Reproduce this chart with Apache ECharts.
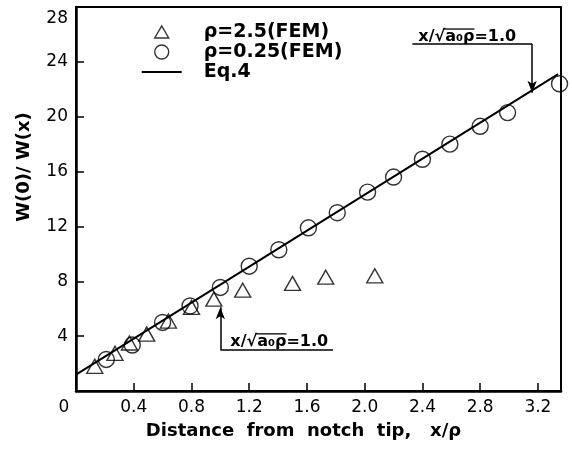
<!DOCTYPE html>
<html><head><meta charset="utf-8">
<script src="https://cdn.jsdelivr.net/npm/echarts@6.0.0/dist/echarts.min.js"></script>
<style>html,body{margin:0;padding:0;background:#fff}#c{width:572px;height:457px}</style>
</head><body><div id="c"></div>
<script>
// ---- data ----
const xTickLabels = ['0', '0.4', '0.8', '1.2', '1.6', '2.0', '2.4', '2.8', '3.2'];
const yTickLabels = ['', '4', '8', '12', '16', '20', '24', '28'];

const rho25X = [0.13, 0.27, 0.37, 0.49, 0.64, 0.80, 0.955, 1.155, 1.50, 1.73, 2.07];
const rho25Y = [1.8, 2.75, 3.5, 4.15, 5.1, 6.1, 6.7, 7.35, 7.85, 8.3, 8.4];

const rho025X = [0.21, 0.39, 0.60, 0.79, 1.0, 1.2, 1.405, 1.61, 1.81, 2.02, 2.2, 2.4, 2.59, 2.8, 2.99, 3.35];
const rho025Y = [2.3, 3.35, 5.0, 6.2, 7.55, 9.1, 10.3, 11.9, 13.0, 14.5, 15.6, 16.9, 18.0, 19.3, 20.3, 22.4];

const eqX = [0, 3.34];
const eqY = [1.2, 23.1];

// annotation "x/sqrt(a0 rho)=1.0" leader lines: [underline start x, corner x, underline y, arrow tip y]
const annTop = [2.33, 3.16, 25.3, 21.75];
const annBottom = [1.78, 1.0, 3.0, 6.1];
const annText = ['x/√', 'a₀ρ', '=1.0'];

const seriesNames = ['ρ=2.5(FEM)', 'ρ=0.25(FEM)', 'Eq.4'];

const zip = (a, b) => a.map((v, i) => [v, b[i]]);

const chart = echarts.init(document.getElementById('c'), null, {renderer: 'canvas'});
const FONT = '"DejaVu Sans", sans-serif';

const hollow = {color: 'rgba(0,0,0,0)', borderColor: '#000', borderWidth: 1.4};

// legend icons drawn inside a 40x14 box (moveTo points fix the bounding box)
const triIcon = 'path://M0,7 M13,13 L20,1 L27,13 Z M40,7 M0,0 M40,14';
const lineIcon = 'path://M0,0 M0,6 L40,6 L40,8 L0,8 Z M40,14';

const option = {
  animation: false,
  backgroundColor: '#fff',
  grid: {left: 76, right: 11, top: 7, bottom: 66, show: true, borderColor: '#000', borderWidth: 2, outerBoundsMode: 'none', containLabel: false},
  legend: {
    orient: 'vertical', left: 136, top: 17,
    itemWidth: 40, itemHeight: 14, itemGap: 0,
    selectedMode: false,
    textStyle: {fontFamily: FONT, fontWeight: 'bold', fontSize: 19, color: '#000', lineHeight: 20, padding: [0, 0, 0, 17]},
    data: [
      {name: seriesNames[0], icon: triIcon, itemStyle: hollow},
      {name: seriesNames[1], icon: 'circle', itemStyle: hollow},
      {name: seriesNames[2], icon: lineIcon, itemStyle: {color: '#000', borderWidth: 0}}
    ]
  },
  xAxis: {
    type: 'value', min: 0, max: 3.36, interval: 0.4,
    name: 'Distance  from  notch  tip,   x/ρ', nameLocation: 'middle', nameGap: 31,
    nameTextStyle: {fontFamily: FONT, fontWeight: 'bold', fontSize: 18, color: '#000', padding: [0, 30, 0, 0]},
    axisLine: {show: true, onZero: false, lineStyle: {color: '#000', width: 2.5}},
    axisTick: {show: true, inside: true, length: 8, lineStyle: {color: '#000', width: 1.5}},
    splitLine: {show: false},
    axisLabel: {
      showMaxLabel: false, margin: 8, color: '#000', fontFamily: FONT, fontSize: 17,
      formatter: (v, i) => i === 0 ? '{z|' + xTickLabels[0] + '}' : (xTickLabels[i] || ''),
      rich: {z: {fontFamily: FONT, fontSize: 17, color: '#000', padding: [0, 24, 0, 0]}}
    }
  },
  yAxis: {
    type: 'value', min: 0, max: 28, interval: 4,
    name: 'W(0)/ W(x)', nameLocation: 'middle', nameGap: 43,
    nameTextStyle: {fontFamily: FONT, fontWeight: 'bold', fontSize: 18, color: '#000', padding: [0, 0, 0, 64]},
    axisLine: {show: true, onZero: false, lineStyle: {color: '#000', width: 2.5}},
    axisTick: {show: true, inside: true, length: 8, lineStyle: {color: '#000', width: 1.5}},
    splitLine: {show: false},
    axisLabel: {margin: 8, color: '#000', fontFamily: FONT, fontSize: 17,
      formatter: (v, i) => i === yTickLabels.length - 1 ? '{t|' + yTickLabels[i] + '}' : (yTickLabels[i] || ''),
      rich: {t: {fontFamily: FONT, fontSize: 17, color: '#000', padding: [24, 0, 0, 0]}}}
  },
  series: [
    {name: seriesNames[0], type: 'scatter', symbol: 'triangle', symbolSize: [16, 14],
     itemStyle: hollow, emphasis: {disabled: true}, data: zip(rho25X, rho25Y), z: 3},
    {name: seriesNames[1], type: 'scatter', symbol: 'circle', symbolSize: 16,
     itemStyle: hollow, emphasis: {disabled: true}, data: zip(rho025X, rho025Y), z: 3},
    {name: seriesNames[2], type: 'line', symbol: 'none', showSymbol: false,
     lineStyle: {color: '#000', width: 2}, itemStyle: {color: '#000'},
     emphasis: {disabled: true}, data: zip(eqX, eqY), z: 2,
     markLine: {
       silent: true, animation: false, symbol: ['none', 'none'], symbolSize: [7, 12],
       label: {show: false}, emphasis: {disabled: true},
       lineStyle: {color: '#000', width: 1.5, type: 'solid'},
       data: [
         [{coord: [annTop[0], annTop[2]]}, {coord: [annTop[1], annTop[2]]}],
         [{coord: [annTop[1], annTop[2]]}, {coord: [annTop[1], annTop[3]], symbol: 'arrow'}],
         [{coord: [annBottom[0], annBottom[2]]}, {coord: [annBottom[1], annBottom[2]]}],
         [{coord: [annBottom[1], annBottom[2]]}, {coord: [annBottom[1], annBottom[3]], symbol: 'arrow'}]
       ]
     }}
  ]
};
chart.setOption(option);

// annotation texts with overline on the radicand
const cv = document.createElement('canvas').getContext('2d');
const AFONT_SIZE = 16;
cv.font = 'bold ' + AFONT_SIZE + 'px "DejaVu Sans"';
function annot(xStart, yLine, dx, dy) {
  const p = chart.convertToPixel({gridIndex: 0}, [xStart, yLine]);
  const left = p[0] + dx, bottom = p[1] + dy;
  const w0 = cv.measureText(annText[0]).width;
  const w1 = cv.measureText(annText[1]).width;
  const oy = bottom - 16;
  return [
    {type: 'text', z: 100, style: {text: annText.join(''), x: left, y: bottom, align: 'left', verticalAlign: 'bottom',
      fontFamily: FONT, fontWeight: 'bold', fontSize: AFONT_SIZE, fill: '#000'}},
    {type: 'line', z: 100, shape: {x1: left + w0 - 2, y1: oy, x2: left + w0 + w1, y2: oy}, style: {stroke: '#000', lineWidth: 1.3}}
  ];
}
chart.setOption({graphic: [].concat(annot(annTop[0], annTop[2], 6, 1), annot(annBottom[1], annBottom[2], 10, 0))});
</script>
</body></html>
